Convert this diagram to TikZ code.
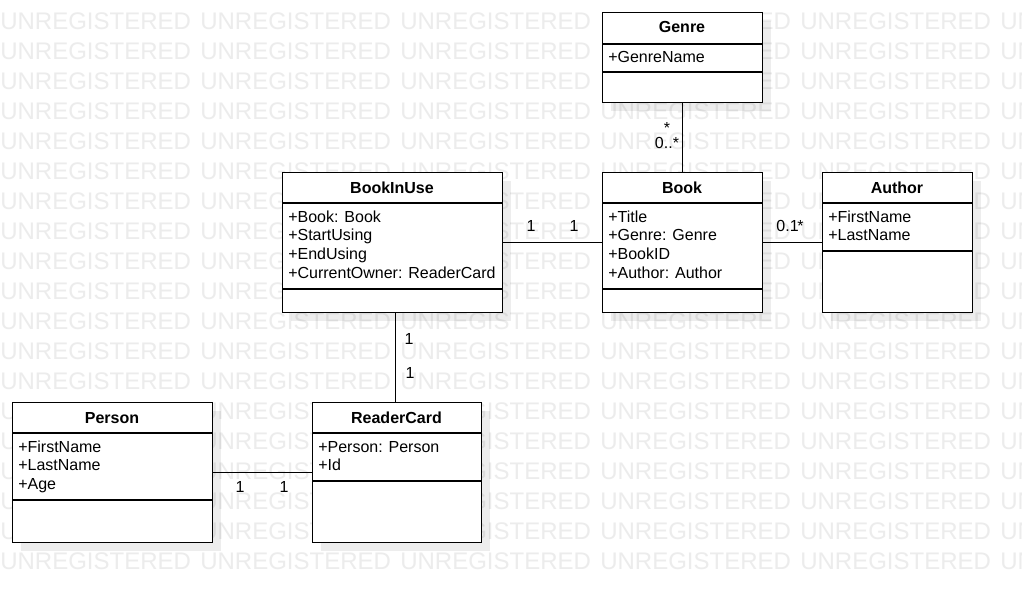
\documentclass[tikz,border=0pt]{standalone}
\usepackage{fontspec}
\setmainfont{Liberation Sans}
\usetikzlibrary{shadows}
\definecolor{wmgray}{RGB}{236,236,236}
\tikzset{
  classbox/.style={draw=black, line width=1pt, fill=white, inner sep=0pt, anchor=north west,
    drop shadow={shadow xshift=6pt, shadow yshift=-6pt, fill=black, draw=none, opacity=0.07}},
  sepline/.style={draw=black, line width=1pt},
  ctitle/.style={font=\bfseries\fontsize{12}{14}\selectfont, inner sep=0pt, anchor=base},
  cattr/.style={font=\fontsize{12}{14}\selectfont, inner sep=0pt, anchor=base west},
  mult/.style={font=\fontsize{12}{14}\selectfont, inner sep=0pt, anchor=base},
  assoc/.style={draw=black, line width=1pt},
  wm/.style={font=\fontsize{18}{20}\selectfont, text=wmgray, inner sep=0pt, anchor=base west},
}
% name, x, y, w, h, sep1, sep2, title, attributes
\newcommand{\umlcls}[9]{%
  \node[classbox, minimum width=#4*0.75pt, minimum height=#5*0.75pt] (#1) at (#2,#3) {};
  \draw[sepline] (#2,#6) -- ++(#4,0);
  \draw[sepline] (#2,#7) -- ++(#4,0);
  \node[ctitle] (#1-title) at ({#2+#4/2},{#3+21}) {#8};
  \foreach \attrline [count=\i] in {#9}
    \node[cattr] (#1-a\i) at ({#2+6},{#6+19+(\i-1)*18.9}) {\attrline};
}
\begin{document}
\begin{tikzpicture}[x=0.75pt, y=-0.75pt]
\useasboundingbox (0,0) rectangle (1022,592);
\fill[white] (0,0) rectangle (1022,592);
% watermark
\begin{scope}
  \clip (0,0) rectangle (1022,592);
  \foreach \r in {0,...,18}
    \foreach \c in {0,...,5}
      \node[wm] (wm-\r-\c) at ({\c*200}, {29.5+30*\r}) {UNREGISTERED};
\end{scope}

% classes
\umlcls{genre}{602}{12}{160}{90}{44}{72}{Genre}{+GenreName}
\umlcls{biu}{282}{172}{220}{140}{203}{289}{BookInUse}{+Book: Book, +StartUsing, +EndUsing, +CurrentOwner: ReaderCard}
\umlcls{book}{602}{172}{160}{140}{203}{289}{Book}{+Title, +Genre: Genre, +BookID, +Author: Author}
\umlcls{author}{822}{172}{150}{140}{203}{251}{Author}{+FirstName, +LastName}
\umlcls{person}{12}{402}{200}{140}{433}{500}{Person}{+FirstName, +LastName, +Age}
\umlcls{rc}{312}{402}{169}{140}{433}{481}{ReaderCard}{+Person: Person, +Id}

% associations
\draw[assoc] (genre.south) -- (book.north);
\draw[assoc] (biu.east) -- (book.west);
\draw[assoc] (book.east) -- (author.west);
\draw[assoc] ([xshift=-1.5pt]rc.north) -- ([xshift=-1.5pt]rc.north |- biu.south);
\draw[assoc] (person.east) -- (rc.west);

% multiplicities
\node[mult] (m-genre) at (667,134) {*};
\node[mult] (m-book-g) at (667,148) {0..*};
\node[mult] (m-biu-b) at (531,231) {1};
\node[mult] (m-book-biu) at (574,231) {1};
\node[mult] (m-auth) at (790,231) {0.1\kern-1pt*};
\node[mult] (m-biu-rc) at (409,344) {1};
\node[mult] (m-rc-biu) at (410,378) {1};
\node[mult] (m-person) at (240,492) {1};
\node[mult] (m-rc-p) at (284,492) {1};
\end{tikzpicture}
\end{document}
